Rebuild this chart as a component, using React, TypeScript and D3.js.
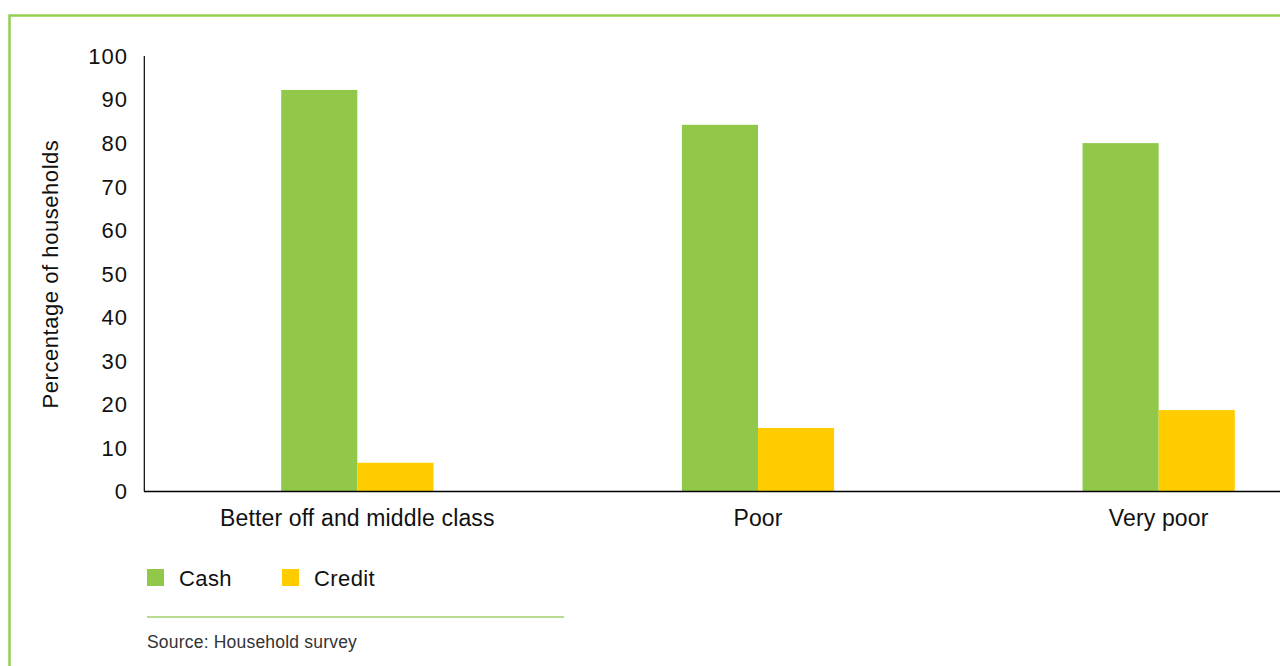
import React from "react";
import * as d3 from "d3";

const categories = ["Better off and middle class", "Poor", "Very poor"];
const cashValues = [92.2, 84.2, 80.0];
const creditValues = [6.6, 14.6, 18.7];
const seriesNames = ["Cash", "Credit"];
const yTicks = [0, 10, 20, 30, 40, 50, 60, 70, 80, 90, 100];
const sourceText = "Source: Household survey";
const yTitle = "Percentage of households";

const W = 1280;
const H = 666;
const FONT = "'Liberation Sans', Arial, Helvetica, sans-serif";
const GREEN = "#92C84A";
const YELLOW = "#FFCC00";
const BORDER = "#92D050";

export default function App() {
  const x = d3
    .scaleBand<string>()
    .domain(categories)
    .range([157, 1359])
    .paddingInner(0.62)
    .paddingOuter(0.31);
  const xs = d3.scaleBand<string>().domain(seriesNames).range([0, x.bandwidth()]);
  const y = d3.scaleLinear().domain([0, 100]).range([491.5, 56]);

  const series = [cashValues, creditValues];
  const colors = [GREEN, YELLOW];

  return (
    <svg
      width={W}
      height={H}
      style={{ position: "absolute", left: 0, top: 0, display: "block" }}
      fontFamily={FONT}
    >
      <rect x={0} y={0} width={W} height={H} fill="#fff" />
      {/* border */}
      <path d={`M9.5,${H + 5} L9.5,15.5 L${W + 5},15.5`} fill="none" stroke={BORDER} strokeWidth={2.5} />

      {/* bars */}
      {categories.map((c, i) => (
        <g key={c}>
          {series.map((vals, s) => (
            <rect
              key={s}
              x={(x(c) ?? 0) + (xs(seriesNames[s]) ?? 0)}
              y={y(vals[i])}
              width={xs.bandwidth()}
              height={y(0) - y(vals[i])}
              fill={colors[s]}
            />
          ))}
        </g>
      ))}

      {/* axes */}
      <line x1={144} x2={W} y1={y(0)} y2={y(0)} stroke="#000" strokeWidth={1.5} />
      <line x1={144.3} x2={144.3} y1={y(100)} y2={y(0)} stroke="#000" strokeWidth={1.2} />

      {yTicks.map((t) => (
        <text
          key={t}
          x={128}
          y={y(t)}
          dy="0.36em"
          textAnchor="end"
          fontSize={22}
          letterSpacing={1}
          fill="#111"
        >
          {t}
        </text>
      ))}

      {categories.map((c) => (
        <text
          key={c}
          x={(x(c) ?? 0) + x.bandwidth() / 2}
          y={526}
          textAnchor="middle"
          fontSize={23}
          letterSpacing={0.15}
          fill="#111"
        >
          {c}
        </text>
      ))}

      <text
        transform={`translate(58,274) rotate(-90)`}
        textAnchor="middle"
        fontSize={22}
        letterSpacing={0.55}
        fill="#111"
      >
        {yTitle}
      </text>

      {/* legend */}
      {seriesNames.map((n, i) => {
        const lx = [147, 282][i];
        return (
          <g key={n}>
            <rect x={lx} y={569} width={17} height={17} fill={colors[i]} />
            <text x={lx + 32} y={586} fontSize={22} letterSpacing={0.4} fill="#111">
              {n}
            </text>
          </g>
        );
      })}

      <line x1={147} x2={564} y1={617} y2={617} stroke="#9FD06A" strokeWidth={1.5} />
      <text x={147} y={648} fontSize={17.5} letterSpacing={0.2} fill="#333">
        {sourceText}
      </text>
    </svg>
  );
}
